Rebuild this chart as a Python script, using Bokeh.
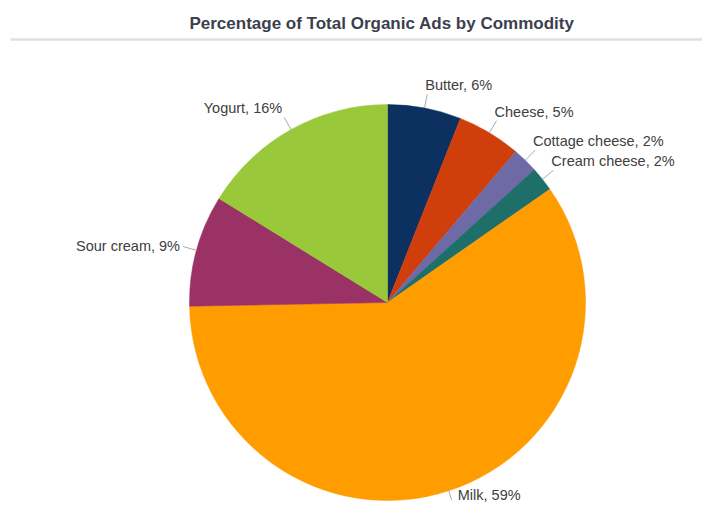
import math
from bokeh.plotting import figure
from bokeh.models import Range1d, ColumnDataSource
from bokeh.core.properties import value
from bokeh.embed import file_html
from bokeh.resources import INLINE

# ---- data ----
categories = ["Butter", "Cheese", "Cottage cheese", "Cream cheese", "Milk", "Sour cream", "Yogurt"]
shares = [6.0, 5.2, 2.1, 2.0, 59.4, 9.1, 16.2]
label_pct = [6, 5, 2, 2, 59, 9, 16]
colors = ["#0c3060", "#d03e0c", "#6d6aa6", "#1e6e69", "#ff9c00", "#9b3265", "#99c93b"]
title_text = "Percentage of Total Organic Ads by Commodity"

# ---- layout (data units = picture pixels; y measured upward from 519) ----
W, H = 702, 503
PAGE_H = 519
cx, cy_page, R = 387, 302, 198
cy = PAGE_H - cy_page
LEAD = 14
FONT = "Liberation Sans"

p = figure(width=W, height=H, output_backend="svg", toolbar_location=None,
           x_range=Range1d(0, W), y_range=Range1d(PAGE_H - H, PAGE_H),
           min_border=0, min_border_left=0, min_border_right=0,
           min_border_top=0, min_border_bottom=0)
p.axis.visible = False
p.grid.visible = False
p.outline_line_color = None
p.background_fill_color = "white"
p.border_fill_color = "white"

total = sum(shares)
cum = 0.0
starts, ends, mids = [], [], []
for s in shares:
    a0 = cum / total * 2 * math.pi
    cum += s
    a1 = cum / total * 2 * math.pi
    starts.append(a0)
    ends.append(a1)
    mids.append((a0 + a1) / 2)

src = ColumnDataSource(dict(
    start=[math.pi / 2 - a1 for a1 in ends],
    end=[math.pi / 2 - a0 for a0 in starts],
    color=colors,
))
p.wedge(x=cx, y=cy, radius=R, start_angle="start", end_angle="end",
        direction="anticlock", fill_color="color", line_color="color",
        line_width=0.5, source=src)

# leader lines and labels
lx0, ly0, lx1, ly1 = [], [], [], []
tx, ty, tt, ta, tb = [], [], [], [], []
for cat, pct, m in zip(categories, label_pct, mids):
    ux, uy = math.sin(m), math.cos(m)
    lead = 10 if uy < -0.7 else LEAD
    sx, sy = cx + R * ux, cy + R * uy
    ex, ey = cx + (R + lead) * ux, cy + (R + lead) * uy
    lx0.append(sx); ly0.append(sy); lx1.append(ex); ly1.append(ey)
    tt.append(f"{cat}, {pct}%")
    if uy < -0.7:
        tx.append(ex + 6); ty.append(PAGE_H - 502); ta.append("left"); tb.append("bottom")
    elif abs(uy) < 0.35:
        tx.append(ex - 3 if ux < 0 else ex + 3); ty.append(ey + 1)
        ta.append("right" if ux < 0 else "left"); tb.append("middle")
    else:
        tx.append(ex - 2 if ux > 0 else ex - 2); ty.append(ey + 1)
        ta.append("left" if ux > 0 else "right"); tb.append("bottom")

p.segment(x0=lx0, y0=ly0, x1=lx1, y1=ly1, line_color="#a9a9a9", line_width=1)
lab = ColumnDataSource(dict(x=tx, y=ty, text=tt, align=ta, base=tb))
p.text(x="x", y="y", text="text", text_align="align", text_baseline="base",
       text_font=value(FONT), text_font_size="14.5px", text_color="#404040",
       source=lab)

# title and rule
p.text(x=[381.5], y=[PAGE_H - 23], text=[title_text], text_align="center",
       text_baseline="middle", text_font=value(FONT), text_font_style="bold",
       text_font_size="17px", text_color="#3b3f4e")
p.segment(x0=[10], y0=[PAGE_H - 39], x1=[W], y1=[PAGE_H - 39],
          line_color="#e0e0e0", line_width=2.5)

open("out.html", "w").write(file_html(p, INLINE))
